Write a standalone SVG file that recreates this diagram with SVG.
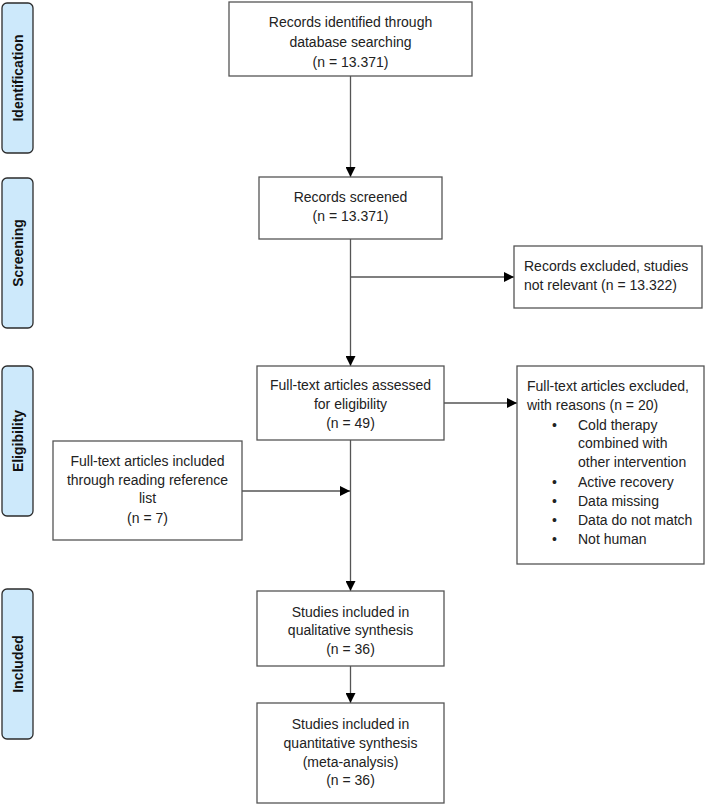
<svg xmlns="http://www.w3.org/2000/svg" width="706" height="805" viewBox="0 0 706 805">
<style>
.bg{fill:#ffffff}
.phase rect{fill:#cde9fb;stroke:#2b2b2b;stroke-width:1.3}
.phase text{font-family:"Liberation Sans",Arial,sans-serif;font-weight:bold;font-size:14px;fill:#111;text-anchor:middle}
.node rect{fill:#ffffff;stroke:#555;stroke-width:1.3}
.node text{font-family:"Liberation Sans",Arial,sans-serif;font-size:14px;fill:#222}
.c{text-anchor:middle}
.conn line{stroke:#555;stroke-width:1.3;fill:none}
</style>
<defs>
<marker id="ah" viewBox="0 0 10 10" refX="10" refY="5" markerWidth="10" markerHeight="10" markerUnits="userSpaceOnUse" orient="auto">
<path d="M0,0 L10,5 L0,10 Z" fill="#000"/>
</marker>
</defs>
<rect class="bg" x="0" y="0" width="706" height="805"/>

<g id="phase-identification" class="phase">
<rect x="2" y="3" width="31" height="150" rx="5"/>
<text transform="translate(22.5,78) rotate(-90)">Identification</text>
</g>
<g id="phase-screening" class="phase">
<rect x="2" y="178" width="31" height="150" rx="5"/>
<text transform="translate(22.5,253) rotate(-90)">Screening</text>
</g>
<g id="phase-eligibility" class="phase">
<rect x="2" y="366" width="31" height="150" rx="5"/>
<text transform="translate(22.5,441) rotate(-90)">Eligibility</text>
</g>
<g id="phase-included" class="phase">
<rect x="2" y="589" width="31" height="150" rx="5"/>
<text transform="translate(22.5,664) rotate(-90)">Included</text>
</g>

<g id="connectors" class="conn">
<line x1="350.5" y1="76" x2="350.5" y2="177" marker-end="url(#ah)"/>
<line x1="350.5" y1="239" x2="350.5" y2="366" marker-end="url(#ah)"/>
<line x1="350.5" y1="277" x2="514" y2="277" marker-end="url(#ah)"/>
<line x1="444" y1="403" x2="517" y2="403" marker-end="url(#ah)"/>
<line x1="350.5" y1="440" x2="350.5" y2="591" marker-end="url(#ah)"/>
<line x1="242" y1="491" x2="350" y2="491" marker-end="url(#ah)"/>
<line x1="350.5" y1="666" x2="350.5" y2="703" marker-end="url(#ah)"/>
</g>

<g id="n-identified" class="node">
<rect x="229" y="2" width="243" height="74"/>
<text class="c" x="350.5" y="27">Records identified through</text>
<text class="c" x="350.5" y="47">database searching</text>
<text class="c" x="350.5" y="67">(n = 13.371)</text>
</g>
<g id="n-screened" class="node">
<rect x="259" y="177" width="183" height="62"/>
<text class="c" x="350.5" y="202">Records screened</text>
<text class="c" x="350.5" y="221">(n = 13.371)</text>
</g>
<g id="n-excluded" class="node">
<rect x="514" y="246" width="188" height="62"/>
<text x="524" y="271">Records excluded, studies</text>
<text x="524" y="290">not relevant (n = 13.322)</text>
</g>
<g id="n-fulltext" class="node">
<rect x="257" y="366" width="187" height="74"/>
<text class="c" x="350.5" y="390">Full-text articles assessed</text>
<text class="c" x="350.5" y="409">for eligibility</text>
<text class="c" x="350.5" y="428">(n = 49)</text>
</g>
<g id="n-fulltext-excluded" class="node">
<rect x="517" y="366" width="187" height="198"/>
<text x="527" y="391">Full-text articles excluded,</text>
<text x="527" y="410">with reasons (n = 20)</text>
<text x="552" y="430">•</text><text x="578" y="430">Cold therapy</text>
<text x="578" y="448">combined with</text>
<text x="578" y="467">other intervention</text>
<text x="552" y="487">•</text><text x="578" y="487">Active recovery</text>
<text x="552" y="506">•</text><text x="578" y="506">Data missing</text>
<text x="552" y="525">•</text><text x="578" y="525">Data do not match</text>
<text x="552" y="544">•</text><text x="578" y="544">Not human</text>
</g>
<g id="n-reference" class="node">
<rect x="53" y="441" width="189" height="99"/>
<text class="c" x="147.5" y="466">Full-text articles included</text>
<text class="c" x="147.5" y="485">through reading reference</text>
<text class="c" x="147.5" y="503">list</text>
<text class="c" x="147.5" y="523">(n = 7)</text>
</g>
<g id="n-qualitative" class="node">
<rect x="257" y="591" width="187" height="75"/>
<text class="c" x="350.5" y="617">Studies included in</text>
<text class="c" x="350.5" y="635">qualitative synthesis</text>
<text class="c" x="350.5" y="654">(n = 36)</text>
</g>
<g id="n-quantitative" class="node">
<rect x="257" y="703" width="187" height="100"/>
<text class="c" x="350.5" y="729">Studies included in</text>
<text class="c" x="350.5" y="748">quantitative synthesis</text>
<text class="c" x="350.5" y="767">(meta-analysis)</text>
<text class="c" x="350.5" y="785">(n = 36)</text>
</g>
</svg>
